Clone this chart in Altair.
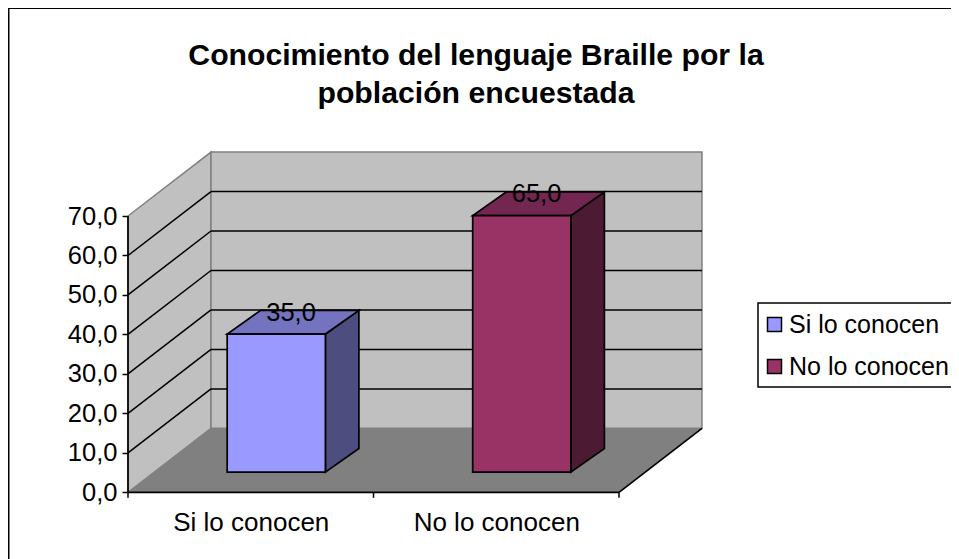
import altair as alt
import pandas as pd

# ---- values
categories = ["Si lo conocen", "No lo conocen"]
values = [35.0, 65.0]
front_colors = ["#9999FF", "#993366"]
top_colors = ["#7373BF", "#732650"]
side_colors = ["#4D4D80", "#4D1A33"]
y_ticks = [0, 10, 20, 30, 40, 50, 60, 70]
grid_values = [10, 20, 30, 40, 50, 60]
title_lines = ["Conocimiento del lenguaje Braille por la", "población encuestada"]

FONT = "Liberation Sans"
FS = 26
W, H = 943, 551

# oblique projection of the 3-D box, in data units
depth_x, depth_y = 0.338, 16.2     # whole floor depth
bar_dx, bar_dy = 0.1365, 6.0       # bar depth
bar_half = 0.2
bar_off_x, bar_off_y = 0.104, 5.1  # where the bar front stands on the floor
ymax = 70

X_DOM = [-120 / 245.5, (W - 120) / 245.5]
Y_DOM = [(484.3 - H) / 3.947, 484.3 / 3.947]

x_axis = alt.Axis(values=[0.5, 1.5], title=None, domain=False, grid=False, ticks=False,
                  labelExpr="datum.value < 1 ? '%s' : '%s'" % tuple(categories),
                  labelFont=FONT, labelFontSize=FS, labelColor="black", labelPadding=0,
                  labelBaseline="middle", offset=-37, labelFlush=False, labelOverlap=False)
y_axis = alt.Axis(values=y_ticks, title=None, domain=False, grid=False, tickColor="black",
                  tickWidth=1.5, tickSize=6, labelPadding=5,
                  labelExpr="replace(format(datum.value, '.1f'), '.', ',')",
                  labelFont=FONT, labelFontSize=25.5, labelColor="black", offset=-120,
                  labelFlush=False, labelOverlap=False)

X = alt.X("x:Q", scale=alt.Scale(domain=X_DOM, nice=False, zero=False), axis=x_axis)
Y = alt.Y("y:Q", scale=alt.Scale(domain=Y_DOM, nice=False, zero=False), axis=y_axis)
X2, Y2 = alt.X2("x2:Q"), alt.Y2("y2:Q")

# walls and floor
side_wall = alt.Chart(pd.DataFrame({
    "x": [0, depth_x], "y": [0, depth_y], "y2": [ymax, ymax + depth_y]
})).mark_area(orient="vertical", color="#C0C0C0", stroke="#808080", strokeWidth=1.5,
              opacity=1).encode(x=X, y=Y, y2=Y2)

back_wall = alt.Chart(pd.DataFrame({
    "x": [depth_x], "x2": [2 + depth_x], "y": [depth_y], "y2": [ymax + depth_y]
})).mark_rect(color="#C0C0C0", stroke="#808080", strokeWidth=1.5).encode(x=X, x2=X2, y=Y, y2=Y2)

side_grid = alt.Chart(pd.DataFrame({
    "x": [0] * len(grid_values), "x2": [depth_x] * len(grid_values),
    "y": grid_values, "y2": [g + depth_y for g in grid_values]
})).mark_rule(color="black", strokeWidth=1.5).encode(x=X, x2=X2, y=Y, y2=Y2)

back_grid = alt.Chart(pd.DataFrame({
    "x": [depth_x] * len(grid_values), "x2": [2 + depth_x] * len(grid_values),
    "y": [g + depth_y for g in grid_values]
})).mark_rule(color="black", strokeWidth=1.5).encode(x=X, x2=X2, y=Y)

floor = alt.Chart(pd.DataFrame({
    "y": [0, depth_y], "x": [0, depth_x], "x2": [2, 2 + depth_x]
})).mark_area(orient="horizontal", color="#808080", opacity=1).encode(y=Y, x=X, x2=X2)

floor_edges = alt.Chart(pd.DataFrame({
    "x": [0, 2], "x2": [2, 2 + depth_x], "y": [0, 0], "y2": [0, depth_y]
})).mark_rule(color="black", strokeWidth=1.7).encode(x=X, x2=X2, y=Y, y2=Y2)

axis_line = alt.Chart(pd.DataFrame({
    "x": [0], "y": [0], "y2": [ymax]
})).mark_rule(color="black", strokeWidth=1.7).encode(x=X, y=Y, y2=Y2)

cat_ticks = alt.Chart(pd.DataFrame({
    "x": [0, 1, 2], "y": [0, 0, 0], "y2": [-1.4, -1.4, -1.4]
})).mark_rule(color="black", strokeWidth=1.5).encode(x=X, y=Y, y2=Y2)

# bars
bars = []
fronts = []
for i, (cat, val) in enumerate(zip(categories, values)):
    left = i + 0.5 - bar_half + bar_off_x
    right = i + 0.5 + bar_half + bar_off_x
    base = bar_off_y
    top = base + val
    side = alt.Chart(pd.DataFrame({
        "x": [right, right + bar_dx], "y": [base, base + bar_dy], "y2": [top, top + bar_dy]
    })).mark_area(orient="vertical", color=side_colors[i], stroke="black", strokeWidth=1.7,
                  opacity=1).encode(x=X, y=Y, y2=Y2)
    lid = alt.Chart(pd.DataFrame({
        "y": [top, top + bar_dy], "x": [left, left + bar_dx], "x2": [right, right + bar_dx]
    })).mark_area(orient="horizontal", color=top_colors[i], stroke="black", strokeWidth=1.7,
                  opacity=1).encode(y=Y, x=X, x2=X2)
    bars += [side, lid]
    fronts.append({"x": left, "x2": right, "y": base, "y2": top, "serie": cat})

front = alt.Chart(pd.DataFrame(fronts)).mark_rect(stroke="black", strokeWidth=1.7, opacity=1).encode(
    x=X, x2=X2, y=Y, y2=Y2,
    color=alt.Color("serie:N",
                    scale=alt.Scale(domain=categories, range=front_colors),
                    sort=categories,
                    legend=alt.Legend(title=None, orient="none", legendX=745, legendY=295,
                                      padding=9,
                                      symbolType="square", symbolSize=196,
                                      symbolStrokeColor="black", symbolStrokeWidth=1.5,
                                      symbolOpacity=1,
                                      labelFont=FONT, labelFontSize=25, labelColor="black",
                                      labelOffset=2, rowPadding=16, labelLimit=300)))

legend_box = alt.Chart(pd.DataFrame({"a": [0]})).mark_rect(
    fill="white", stroke="black", strokeWidth=1.5).encode(
    x=alt.value(750), x2=alt.value(W + 10), y=alt.value(295), y2=alt.value(379))

labels = alt.Chart(pd.DataFrame([
    {"x": i + 0.5 + bar_off_x + bar_dx / 2 - 0.008, "y": bar_off_y + v + bar_dy - 0.6,
     "t": f"{v:.1f}".replace(".", ",")}
    for i, v in enumerate(values)
])).mark_text(font=FONT, fontSize=25.5, color="black", align="center", baseline="middle").encode(
    x=X, y=Y, text="t:N")

frame_left = alt.Chart(pd.DataFrame({"a": [0]})).mark_rule(color="black", strokeWidth=2).encode(
    x=alt.value(0.5), y=alt.value(0), y2=alt.value(H))
frame_top = alt.Chart(pd.DataFrame({"a": [0]})).mark_rule(color="black", strokeWidth=2).encode(
    y=alt.value(0), x=alt.value(0), x2=alt.value(W))

chart = alt.layer(
    frame_left, frame_top, legend_box, side_wall, back_wall, side_grid, back_grid, floor,
    floor_edges, axis_line, cat_ticks, *bars, front, labels
).properties(
    width=W, height=H, padding=0, autosize=alt.AutoSizeParams(type="none"),
    background="white",
    title=alt.TitleParams(text=title_lines, anchor="middle", font=FONT, fontSize=30.2,
                          fontWeight="bold", color="black", lineHeight=38,
                          offset=-102, dx=-3.5, baseline="top", align="center")
).configure_view(stroke=None)

chart.save("out.html", embed_options={"renderer": "svg", "actions": False})
